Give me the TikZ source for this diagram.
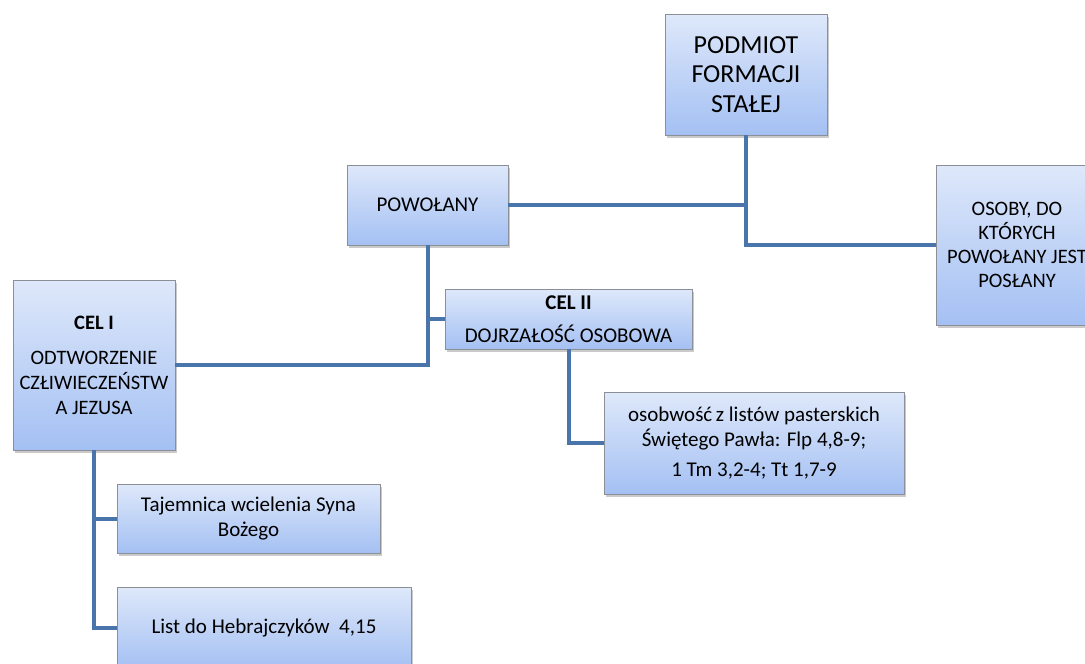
\documentclass[tikz,border=0pt]{standalone}
\usepackage{fontspec}
\setmainfont{Carlito}
\usetikzlibrary{shadows}
\definecolor{boxtop}{RGB}{222,232,250}
\definecolor{boxbot}{RGB}{164,192,243}
\definecolor{boxline}{RGB}{140,143,150}
\definecolor{conncol}{RGB}{74,117,170}
\tikzset{
  box/.style={draw=boxline, line width=0.8pt, top color=boxtop, bottom color=boxbot,
    inner sep=0pt, align=center, text=black,
    drop shadow={shadow xshift=2pt, shadow yshift=-3pt, opacity=0.35, fill=black!60},
    font=\fontsize{21}{25}\selectfont},
  bigbox/.style={box, font=\fontsize{26}{29.5}\selectfont},
  conn/.style={draw=conncol, line width=4pt}
}
\begin{document}
\begin{tikzpicture}[x=1pt,y=-1pt]
\useasboundingbox (0,0) rectangle (1085,664);
\clip (0,0) rectangle (1085,664);
\node[bigbox, minimum width=162pt, minimum height=121pt] (podmiot) at (746,74.5) {PODMIOT\\FORMACJI\\STAŁEJ};
\node[box, minimum width=162pt, minimum height=160pt, font=\fontsize{20.5}{24}\selectfont] (osoby) at (1017,245) {OSOBY, DO\\KTÓRYCH\\POWOŁANY JEST\\POSŁANY};
\node[box, minimum width=161pt, minimum height=80pt] (powolany) at (427.5,205) {POWOŁANY};
\node[box, minimum width=162pt, minimum height=170pt, font=\fontsize{20.5}{25}\selectfont] (cel1) at (94,365) {\textbf{CEL I}\\[10pt]ODTWORZENIE\\CZŁIWIECZEŃSTW\\A JEZUSA};
\node[box, minimum width=247pt, minimum height=60pt] (cel2) at (568.5,319) {\textbf{CEL II}\\[8pt]DOJRZAŁOŚĆ OSOBOWA};
\node[box, minimum width=300pt, minimum height=102pt] (osob) at (754,443) {osobwość\,z listów pasterskich\\Świętego Pawła: Flp 4,8-9;\\[5pt]1 Tm 3,2-4; Tt 1,7-9};
\node[box, minimum width=263pt, minimum height=69pt] (taj) at (248.5,518.5) {Tajemnica wcielenia Syna\\Bożego};
\node[box, minimum width=294pt, minimum height=82pt] (list) at (264,628) {List do Hebrajczyków~~4,15};
\draw[conn] (podmiot.south) |- (osoby.west);
\draw[conn] (powolany.east) -| (podmiot.south);
\draw[conn] (powolany.south) |- (cel1.east);
\draw[conn] (cel2.west) -| (powolany.south);
\draw[conn] (cel2.south) |- (osob.west);
\draw[conn] (cel1.south) |- (taj.west);
\draw[conn] (cel1.south) |- (list.west);
\end{tikzpicture}
\end{document}
